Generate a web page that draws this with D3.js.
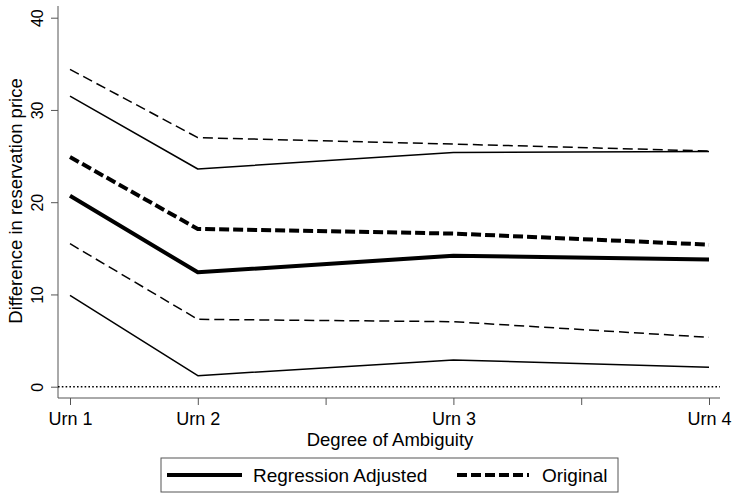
<!DOCTYPE html>
<html>
<head>
<meta charset="utf-8">
<script src="https://cdn.jsdelivr.net/npm/d3@7"></script>
<style>
body { margin:0; background:#fff; }
svg { font-family: "Liberation Sans", Arial, sans-serif; }
</style>
</head>
<body>
<div id="vis1"></div>
<script>
// degree of ambiguity positions (x), labels for the axis
var urnPos = [1, 2, 4, 6];
var urnLabels = ["Urn 1", "Urn 2", "Urn 3", "Urn 4"];
var xTicks = [1, 2, 3, 4, 5, 6];
var yTicks = [0, 10, 20, 30, 40];

// regression adjusted estimate and 95% bounds
var adjusted = [20.7, 12.4, 14.2, 13.8];
var adjustedHi = [31.5, 23.6, 25.4, 25.5];
var adjustedLo = [9.9, 1.2, 2.9, 2.1];

// original estimate and bounds
var original = [24.9, 17.1, 16.6, 15.4];
var originalHi = [34.4, 27.0, 26.3, 25.55];
var originalLo = [15.5, 7.3, 7.05, 5.35];

var w = 732, h = 493;

var svg = d3.select("#vis1")
	.append("svg")
	.attr("width", w)
	.attr("height", h);

var x = d3.scaleLinear().domain([1, 6]).range([70, 709]);
var y = d3.scaleLinear().domain([0, 40]).range([386.7, 17.7]);

// axes
var xAxis = d3.axisBottom(x)
	.tickValues(xTicks)
	.tickSize(7)
	.tickFormat(function(d){
		var i = urnPos.indexOf(d);
		return i > -1 ? urnLabels[i] : "";
	});

var gx = svg.append("g")
	.attr("transform", "translate(0,398)")
	.call(xAxis);
gx.select(".domain").attr("d", "M58,0H720").attr("stroke", "#555");
gx.selectAll(".tick line").attr("stroke", "#555");
gx.selectAll(".tick text").attr("font-size", 18).attr("fill", "#000")
	.attr("font-family", "Liberation Sans, Arial, sans-serif")
	.attr("y", 27).attr("dy", null);

var yAxis = d3.axisLeft(y)
	.tickValues(yTicks)
	.tickSize(7)
	.tickFormat(d3.format("d"));

var gy = svg.append("g")
	.attr("transform", "translate(58,0)")
	.call(yAxis);
gy.select(".domain").attr("d", "M0,6V398").attr("stroke", "#555");
gy.selectAll(".tick line").attr("stroke", "#555");
gy.selectAll(".tick text")
	.attr("font-size", 16).attr("fill", "#000")
	.attr("font-family", "Liberation Sans, Arial, sans-serif")
	.attr("x", null).attr("dy", null)
	.attr("text-anchor", "middle")
	.attr("transform", "translate(-15,0) rotate(-90)");

// axis titles
svg.append("text")
	.attr("x", 390).attr("y", 446)
	.attr("text-anchor", "middle")
	.attr("font-size", 18.5)
	.text("Degree of Ambiguity");

svg.append("text")
	.attr("transform", "translate(22,201) rotate(-90)")
	.attr("text-anchor", "middle")
	.attr("font-size", 18.5)
	.text("Difference in reservation price");

// zero reference line
svg.append("line")
	.attr("x1", 58).attr("x2", 720)
	.attr("y1", y(0)).attr("y2", y(0))
	.attr("stroke", "#000")
	.attr("stroke-width", 1.6)
	.attr("stroke-dasharray", "1.6,2.2");

var line = d3.line()
	.x(function(d, i){ return x(urnPos[i]); })
	.y(function(d){ return y(d); });

var series = [
	{ vals: adjustedHi, width: 1.5, dash: null },
	{ vals: adjustedLo, width: 1.5, dash: null },
	{ vals: originalHi, width: 1.5, dash: "10,5" },
	{ vals: originalLo, width: 1.5, dash: "10,5" },
	{ vals: original, width: 4, dash: "10,4" },
	{ vals: adjusted, width: 4, dash: null }
];

svg.selectAll("path.series")
	.data(series)
	.enter()
	.append("path")
	.attr("class", "series")
	.attr("d", function(d){ return line(d.vals); })
	.attr("fill", "none")
	.attr("stroke", "#000")
	.attr("stroke-width", function(d){ return d.width; })
	.attr("stroke-dasharray", function(d){ return d.dash; })
	.attr("stroke-linejoin", "round");

// legend
var leg = svg.append("g");
leg.append("rect")
	.attr("x", 161).attr("y", 458)
	.attr("width", 457).attr("height", 34)
	.attr("fill", "#fff")
	.attr("stroke", "#555");

leg.append("line")
	.attr("x1", 167).attr("x2", 242)
	.attr("y1", 475).attr("y2", 475)
	.attr("stroke", "#000").attr("stroke-width", 4);
leg.append("text")
	.attr("x", 253).attr("y", 482)
	.attr("font-size", 19)
	.text("Regression Adjusted");

leg.append("line")
	.attr("x1", 457).attr("x2", 529)
	.attr("y1", 475).attr("y2", 475)
	.attr("stroke", "#000").attr("stroke-width", 4)
	.attr("stroke-dasharray", "10,4");
leg.append("text")
	.attr("x", 542).attr("y", 482)
	.attr("font-size", 19)
	.text("Original");
</script>
</body>
</html>
